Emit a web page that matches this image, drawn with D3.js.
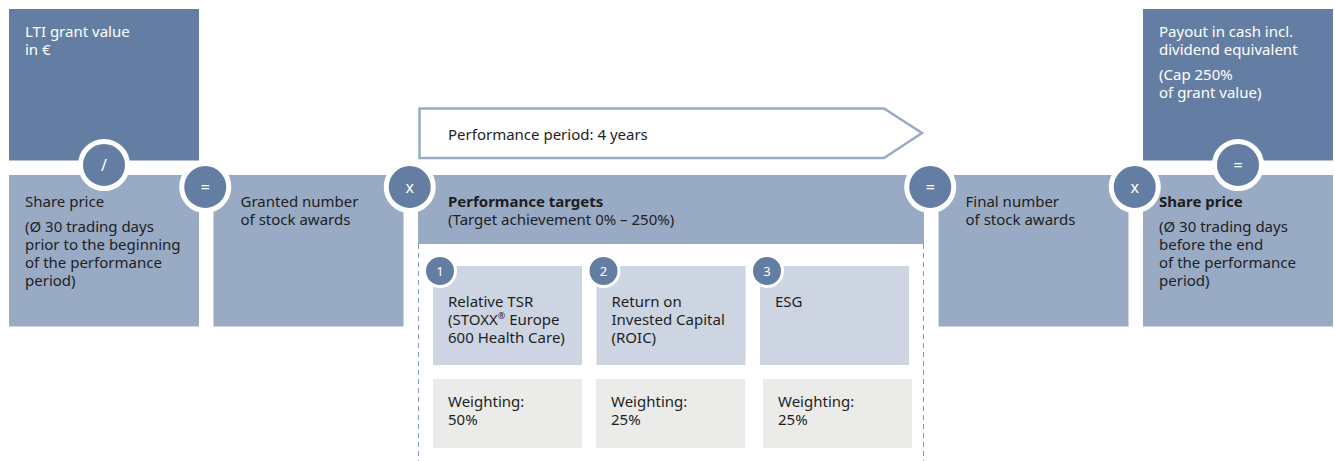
<!DOCTYPE html>
<html>
<head>
<meta charset="utf-8">
<script src="https://cdn.jsdelivr.net/npm/d3@7"></script>
<style>
  body { margin: 0; background: #fff; }
  svg text { font-family: "Noto Sans", sans-serif; font-size: 15px; }
</style>
</head>
<body>
<div id="chart"></div>
<script>
// labels of the main flow boxes (lower row)
var mainBoxes = [
  {title: "Share price", lines: ["(Ø 30 trading days", "prior to the beginning", "of the performance", "period)"], bold: false},
  {title: "Granted number", lines: ["of stock awards"], bold: false, tight: true},
  {title: "Performance targets", lines: ["(Target achievement 0% – 250%)"], bold: true, tight: true},
  {title: "Final number", lines: ["of stock awards"], bold: false, tight: true},
  {title: "Share price", lines: ["(Ø 30 trading days", "before the end", "of the performance", "period)"], bold: true}
];
var topBoxes = [
  {col: 0, lines: [["LTI grant value", "in €"]]},
  {col: 4, lines: [["Payout in cash incl.", "dividend equivalent"], ["(Cap 250%", "of grant value)"]]}
];
var operators = ["=", "x", "=", "x"];
var verticalOps = [{col: 0, sym: "/"}, {col: 4, sym: "="}];
var targets = [
  {num: "1", lines: ["Relative TSR", "(STOXX® Europe", "600 Health Care)"], weight: "50%"},
  {num: "2", lines: ["Return on", "Invested Capital", "(ROIC)"], weight: "25%"},
  {num: "3", lines: ["ESG"], weight: "25%"}
];
var periodLabel = "Performance period: 4 years";

var W = 1335, H = 461;
var dark = "#647ea3", mid = "#99aac5", light = "#cdd5e2", grey = "#ebebe9", ink = "#1e1e1e";

var svg = d3.select("#chart").append("svg").attr("width", W).attr("height", H);

// column layout: widths in px of the five columns
var colW = [190, 190, 506, 190, 190];
var gap = 14.5;
var colX = [];
var acc = 9;
colW.forEach(function(w) { colX.push(acc); acc += w + gap; });

var y = d3.scaleLinear().domain([0, 1]).range([175, 326.5]);

// top dark boxes
topBoxes.forEach(function(b) {
  svg.append("rect").attr("x", colX[b.col]).attr("y", 9)
    .attr("width", b.col == 4 ? W - 2 - colX[b.col] : colW[b.col]).attr("height", 151.5)
    .attr("fill", dark);
  var by = 37;
  b.lines.forEach(function(par, pi) {
    par.forEach(function(t, i) {
      svg.append("text").attr("x", colX[b.col] + 16).attr("y", by)
        .attr("fill", "#fff").text(t);
      by += 18;
    });
    by += 7;
  });
});

// arrow for performance period
var ax0 = colX[2], ax1 = colX[2] + colW[2];
svg.append("path")
  .attr("d", "M" + (ax0 + 1.5) + ",108.5 L" + (ax1 - 40) + ",108.5 L" + (ax1 - 2) + ",133 L" + (ax1 - 40) + ",158 L" + (ax0 + 1.5) + ",158 Z")
  .attr("fill", "#fff").attr("stroke", mid).attr("stroke-width", 2.5);
svg.append("text").attr("x", ax0 + 30).attr("y", 140).attr("fill", ink).text(periodLabel);

// main lower boxes
mainBoxes.forEach(function(b, i) {
  var h = i == 2 ? 69 : y(1) - y(0);
  var x0 = colX[i];
  var w = i == 4 ? W - 2 - x0 : colW[i];
  svg.append("rect").attr("x", x0).attr("y", y(0)).attr("width", w).attr("height", h).attr("fill", mid);
  var tx = x0 + (i == 2 ? 30 : (i == 0 || i == 4 ? 16 : 27));
  svg.append("text").attr("x", tx).attr("y", 207).attr("fill", ink)
    .attr("font-weight", b.bold ? "bold" : null).text(b.title);
  b.lines.forEach(function(t, j) {
    svg.append("text").attr("x", tx).attr("y", (b.tight ? 225 : 232) + j * 18)
      .attr("fill", ink).text(t);
  });
});

// dashed frame below performance targets
[ax0 + 0.5, ax1 - 0.5].forEach(function(xx) {
  svg.append("line").attr("x1", xx).attr("x2", xx).attr("y1", 244).attr("y2", H)
    .attr("stroke", "#7f96b8").attr("stroke-width", 1).attr("stroke-dasharray", "5,4");
});

// sub targets
var sx = d3.scaleBand().domain(targets.map(function(d) { return d.num; }))
  .range([433, 909]).paddingInner(0.0887).paddingOuter(0);
var greyShift = [0, -0.5, 3];
targets.forEach(function(t, i) {
  var x0 = sx(t.num), bw = sx.bandwidth();
  svg.append("rect").attr("x", x0).attr("y", 266).attr("width", bw).attr("height", 99).attr("fill", light);
  svg.append("rect").attr("x", x0 + greyShift[i]).attr("y", 379).attr("width", bw).attr("height", 69).attr("fill", grey);
  svg.append("circle").attr("cx", x0 + 7).attr("cy", 271).attr("r", 15.5)
    .attr("fill", dark).attr("stroke", "#fff").attr("stroke-width", 3);
  svg.append("text").attr("x", x0 + 7).attr("y", 276).attr("text-anchor", "middle")
    .attr("fill", "#fff").style("font-size", "13px").text(t.num);
  t.lines.forEach(function(l, j) {
    var tt = svg.append("text").attr("x", x0 + 15).attr("y", 307 + j * 18).attr("fill", ink);
    if (l.indexOf("®") >= 0) {
      var parts = l.split("®");
      tt.append("tspan").text(parts[0]);
      tt.append("tspan").attr("dy", -6).style("font-size", "9px").text("®");
      tt.append("tspan").attr("dy", 6).text(parts[1]);
    } else tt.text(l);
  });
  var wx = x0 + 15 + greyShift[i];
  svg.append("text").attr("x", wx).attr("y", 407).attr("fill", ink).text("Weighting:");
  svg.append("text").attr("x", wx).attr("y", 425).attr("fill", ink).text(t.weight);
});

// operator circles between columns
function opCircle(cx, cy, sym) {
  svg.append("circle").attr("cx", cx).attr("cy", cy).attr("r", 23.5)
    .attr("fill", dark).attr("stroke", "#fff").attr("stroke-width", 5);
  svg.append("text").attr("x", cx).attr("y", cy + 5.5).attr("text-anchor", "middle")
    .attr("fill", "#fff").style("font-size", "16px").text(sym);
}
operators.forEach(function(s, i) {
  var cx = colX[i + 1] - gap / 2 - 1;
  opCircle(cx, 187, s);
});
verticalOps.forEach(function(o) {
  opCircle(colX[o.col] + 95, 165, o.sym);
});
</script>
</body>
</html>
